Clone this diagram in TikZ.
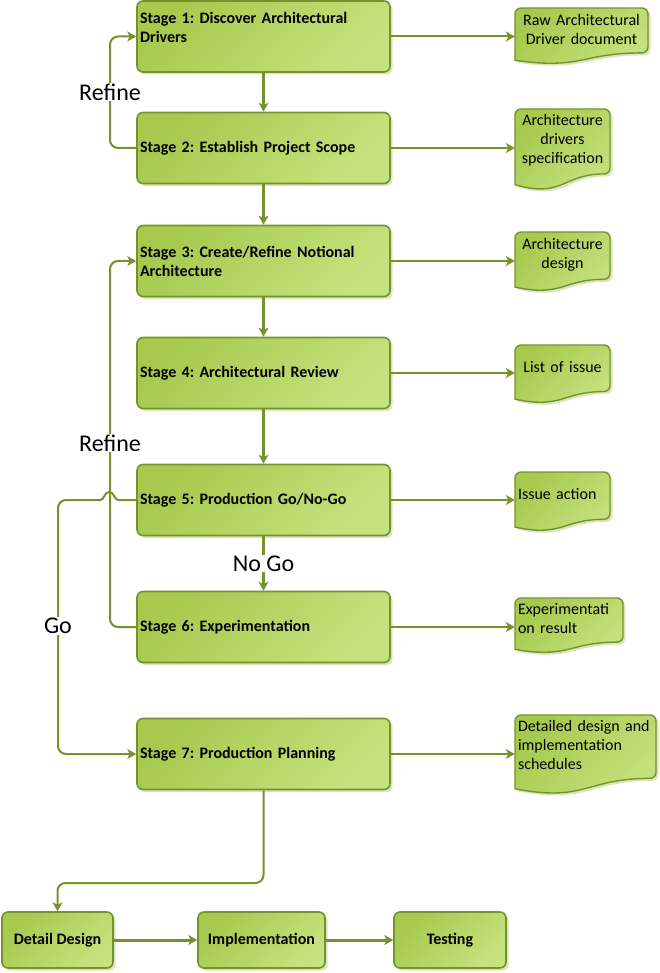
\documentclass[tikz,border=0pt]{standalone}
\usepackage{fontspec}
\setmainfont{Carlito}
\frenchspacing
\usetikzlibrary{arrows.meta,shadows}
\definecolor{stageline}{RGB}{118,146,46}
\definecolor{stagetop}{RGB}{166,201,78}
\definecolor{stagebot}{RGB}{198,226,126}
\definecolor{stageshadow}{RGB}{216,230,184}
\tikzstyle{boxbase}=[rectangle, rounded corners=6pt, draw=stageline, line width=1.6pt, top color=stagetop, bottom color=stagebot, shading angle=45, drop shadow={shadow xshift=2.5pt, shadow yshift=-2.5pt, fill=stageshadow, opacity=1}, font=\bfseries\fontsize{16}{19}\selectfont]
\tikzstyle{stage}=[boxbase, minimum width=253pt, minimum height=71pt, text width=247pt, inner xsep=3pt, align=left]
\tikzstyle{task}=[boxbase, minimum height=56pt]
\tikzstyle{docshape}=[draw=stageline, line width=1.4pt, top color=stagetop, bottom color=stagebot, shading angle=45, drop shadow={shadow xshift=2.5pt, shadow yshift=-2.5pt, fill=stageshadow, opacity=1}]
\tikzstyle{doctext}=[inner xsep=3pt, inner ysep=0pt, font=\fontsize{16}{19}\selectfont]
\tikzstyle{lbl}=[fill=white, inner sep=1pt, font=\fontsize{24}{28}\selectfont]
\tikzstyle{link}=[draw=stageline, line width=2pt, -{Stealth[length=9pt,width=10pt,inset=2.5pt]}]
\tikzstyle{mainlink}=[link, line width=3pt]
% name, x, y, width, height, align, text
\newcommand{\docnode}[7]{%
  \path[docshape] (#2,{#3+0.934*#5}) [rounded corners=6pt] -- (#2,#3) -- ({#2+#4},#3) -- ({#2+#4},{#3+0.802*#5}) [sharp corners]
    .. controls ({#2+0.5*#4},{#3+0.802*#5}) and ({#2+0.5*#4},{#3+1.107*#5}) .. (#2,{#3+0.934*#5}) -- cycle;
  \node[doctext, text width={#4pt-6pt}, align=#6] (#1) at ({#2+0.5*#4},{#3+0.38*#5}) {#7};
}

\begin{document}
\begin{tikzpicture}[x=1pt, y=-1pt]
    \useasboundingbox (0,0) rectangle (659,973);
    % stages
    \node[stage] (s1) at (263.5, 36.5) {Stage 1: Discover Architectural\\Drivers\\\mbox{}};
    \node[stage] (s2) at (263.5, 148) {Stage 2: Establish Project Scope};
    \node[stage] (s3) at (263.5, 261) {Stage 3: Create/Refine Notional\\Architecture};
    \node[stage] (s4) at (263.5, 373) {Stage 4: Architectural Review};
    \node[stage] (s5) at (263.5, 500) {Stage 5: Production Go/No-Go};
    \node[stage] (s6) at (263.5, 627) {Stage 6: Experimentation};
    \node[stage] (s7) at (263.5, 754) {Stage 7: Production Planning};
    % outputs
    \docnode{raw}{515}{8}{133}{56}{center}{Raw Architectural\\Driver document}
    \docnode{spec}{515}{109}{95}{81}{center}{Architecture\\drivers\\specification}
    \docnode{design}{515}{232}{95}{59}{center}{Architecture\\design}
    \docnode{issues}{515}{345}{95}{58}{center}{List of issue}
    \docnode{action}{515}{472}{95}{59}{left}{Issue action}
    \docnode{result}{515}{598}{108}{55}{left}{Experimentati\\on result}
    \docnode{sched}{515}{715}{141}{79}{left}{Detailed design and\\implementation\\schedules}
    % last row
    \node[task, minimum width=111pt] (dd) at (57.5, 940) {Detail Design};
    \node[task, minimum width=127pt] (impl) at (261.5, 940) {Implementation};
    \node[task, minimum width=112pt] (test) at (450, 940) {Testing};
    \coordinate (r1) at (110, 92);
    \coordinate (r2) at (110, 443);
    \coordinate (golane) at (58, 626);
    \coordinate (turn) at (264, 883);
    % main flow
    \foreach \a/\b in {s1/s2, s2/s3, s3/s4, s4/s5, s5/s6}
        \draw[mainlink] (\a) -- (\b);
    \draw[mainlink] (dd) -- (impl);
    \draw[mainlink] (impl) -- (test);
    % outputs
    \foreach \s/\d in {s1/raw, s2/spec, s3/design, s4/issues, s5/action, s6/result, s7/sched}
        \draw[link] (\s.east) -- (\s.east -| \d.west);
    % loops
    \draw[link, rounded corners=8pt] (s2.west) -- (s2.west -| r1) -- (s1.west -| r1) -- (s1.west);
    \draw[link, rounded corners=8pt] (s6.west) -- (s6.west -| r2) -- (s3.west -| r2) -- (s3.west);
    \draw[link] (s5.west) -- ++(-18,0) .. controls +(-4,0) and +(5,0) .. ++(-9,-8) .. controls +(-5,0) and +(4,0) .. ++(-9,8)
        [rounded corners=8pt] -- (s5.west -| golane) -- (s7.west -| golane) -- (s7.west);
    \draw[link, rounded corners=8pt] (s7.south) |- (dd.north |- turn) -- (dd.north);
    % labels
    \path (s5.south) -- node[lbl] (nogo) {No Go} (s6.north);
    \node[lbl] (refa) at (r1) {Refine};
    \node[lbl] (refb) at (r2) {Refine};
    \node[lbl] (go) at (golane) {Go};
\end{tikzpicture}
\end{document}
